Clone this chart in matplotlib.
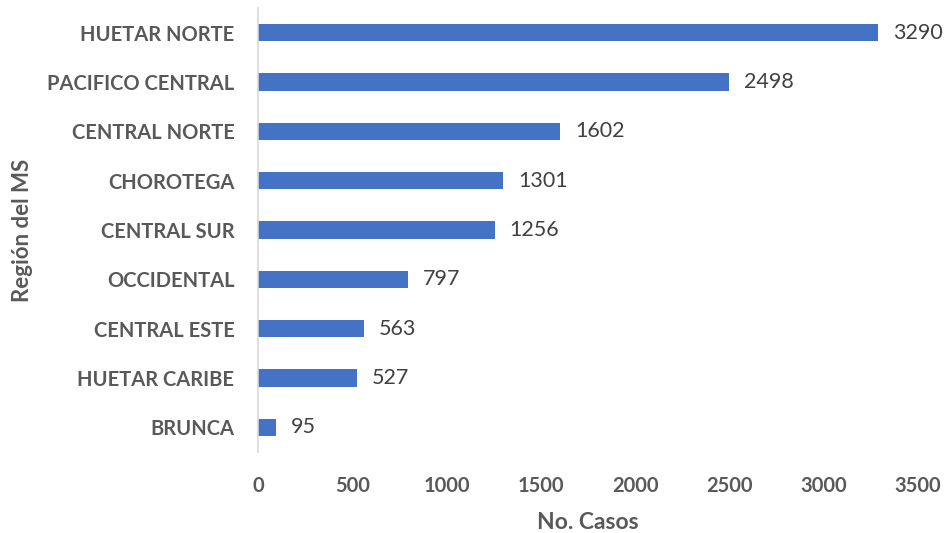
import matplotlib.pyplot as plt

plt.rcParams['font.family'] = ['Lato', 'DejaVu Sans']

regiones = ["HUETAR NORTE", "PACIFICO CENTRAL", "CENTRAL NORTE", "CHOROTEGA",
            "CENTRAL SUR", "OCCIDENTAL", "CENTRAL ESTE", "HUETAR CARIBE", "BRUNCA"]
casos = [3290, 2498, 1602, 1301, 1256, 797, 563, 527, 95]

fig = plt.figure(figsize=(9.44, 5.33), dpi=100)
ax = fig.add_axes([0.2733, 0.152, 0.6992, 0.833])

pos = list(range(len(regiones)))
bars = ax.barh(pos, casos, height=0.35, color='#4472C4')
ax.set_ylim(len(regiones) - 0.5, -0.5)
ax.set_xlim(0, 3500)
ax.set_xticks(range(0, 3501, 500))
ax.set_yticks(pos)
ax.set_yticklabels(regiones)

# value labels to the right of each bar
for b, v in zip(bars, casos):
    ax.text(v + 78, b.get_y() + b.get_height() / 2, str(v), va='center', ha='left',
            fontsize=15.5, color='#404040')

for s in ['top', 'right', 'bottom']:
    ax.spines[s].set_visible(False)
ax.spines['left'].set_color('#D9D9D9')
ax.spines['left'].set_linewidth(1.2)

ax.tick_params(axis='both', length=0, labelcolor='#595959')
ax.tick_params(axis='y', pad=17, labelsize=14.5)
ax.tick_params(axis='x', pad=17, labelsize=14.5)
for lbl in ax.get_xticklabels() + ax.get_yticklabels():
    lbl.set_fontweight('bold')

ax.set_xlabel('No. Casos', fontsize=16.5, fontweight='bold', color='#595959', labelpad=12)
ax.set_ylabel('Región del MS', fontsize=16, fontweight='bold', color='#595959', labelpad=10)

fig.savefig('out.png', dpi=100)
